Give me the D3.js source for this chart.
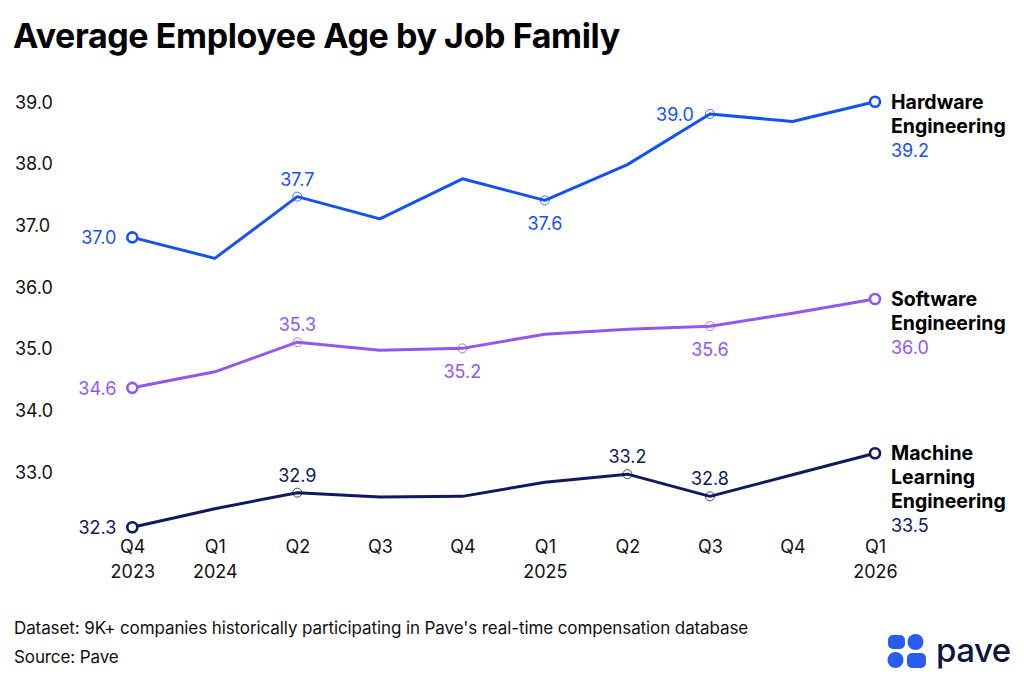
<!DOCTYPE html>
<html>
<head>
<meta charset="utf-8">
<script src="https://cdn.jsdelivr.net/npm/d3@7"></script>
<style>
  html, body { margin: 0; padding: 0; background: #fff; }
  svg { display: block; font-family: Inter, "Open Sans", sans-serif; }
</style>
</head>
<body>
<svg id="chart" width="1024" height="683"></svg>
<script>
// ---- data ----
const quarters = ["Q4", "Q1", "Q2", "Q3", "Q4", "Q1", "Q2", "Q3", "Q4", "Q1"];
const years    = ["2023", "2024", "", "", "", "2025", "", "", "", "2026"];

const hardware = [37.0, 36.66, 37.66, 37.30, 37.95, 37.6, 38.18, 39.0, 38.88, 39.2];
const software = [34.56, 34.82, 35.3, 35.17, 35.2, 35.43, 35.51, 35.56, 35.77, 36.0];
const machineLearning = [32.3, 32.6, 32.86, 32.79, 32.8, 33.03, 33.16, 32.8, 33.15, 33.5];

// y tick labels as printed on the reference, and where they sit on the value scale
const yTickLabels = ["33.0", "34.0", "35.0", "36.0", "37.0", "38.0", "39.0"];
const yTickValues = [33.2, 34.2, 35.2, 36.2, 37.2, 38.2, 39.2];

const seriesNames = ["Hardware", "Software", "Machine Learning"];
const seriesLabelLines = [["Hardware", "Engineering"], ["Software", "Engineering"], ["Machine", "Learning", "Engineering"]];
const seriesColors = ["#1652F0", "#9457EB", "#0E1A5C"];
// labelled point index -> placement
const hardwareLabels = [[0, "left"], [2, "above"], [5, "below"], [7, "left"]];
const softwareLabels = [[0, "left"], [2, "above"], [4, "below"], [7, "below"]];
const mlLabels = [[0, "left"], [2, "above"], [6, "above"], [7, "above"]];

const title = "Average Employee Age by Job Family";
const footnotes = ["Dataset: 9K+ companies historically participating in Pave's real-time compensation database", "Source: Pave"];

// ---- chart ----
const svg = d3.select("#chart");
const fmt = d3.format(".1f");

const x = d3.scalePoint().domain(d3.range(quarters.length)).range([132.3, 875]);
const y = d3.scaleLinear().domain([33.2, 39.2]).range([471.7, 101.7]);

svg.append("text").attr("x", 13).attr("y", 48)
  .attr("font-size", 34).attr("font-weight", 700).attr("fill", "#000")
  .attr("letter-spacing", -0.4).text(title);

// y axis (text only)
const yAxis = d3.axisLeft(y).tickValues(yTickValues)
  .tickFormat((d, i) => yTickLabels[i]).tickSize(0);
const yg = svg.append("g").attr("transform", "translate(15,0)").call(yAxis);
yg.select(".domain").remove();
yg.selectAll("text").attr("text-anchor", "start").attr("x", 0).attr("dy", "0.35em")
  .attr("font-size", 18).attr("fill", "#111").attr("font-family", "Inter, sans-serif");

// x axis
const xAxis = d3.axisBottom(x).tickFormat(i => quarters[i]).tickSize(0);
const xg = svg.append("g").attr("transform", "translate(0,540)").call(xAxis);
xg.select(".domain").remove();
xg.selectAll("text").attr("font-size", 18).attr("fill", "#111").attr("dy", "0.71em")
  .attr("font-family", "Inter, sans-serif").attr("y", 0);
xg.selectAll(".tick").append("text").attr("y", 25).attr("dy", "0.71em")
  .attr("font-size", 18).attr("fill", "#111").attr("text-anchor", "middle")
  .attr("font-family", "Inter, sans-serif")
  .text(i => years[i]);

const allSeries = [hardware, software, machineLearning];
const allLabels = [hardwareLabels, softwareLabels, mlLabels];
const line = d3.line().x((d, i) => x(i)).y(d => y(d));

allSeries.forEach((vals, s) => {
  const c = seriesColors[s];
  const g = svg.append("g");
  g.append("path").datum(vals).attr("d", line).attr("fill", "none")
    .attr("stroke", c).attr("stroke-width", 3).attr("stroke-linejoin", "round");

  // small markers at labelled intermediate points
  allLabels[s].filter(l => l[0] !== 0).forEach(([i]) => {
    g.append("circle").attr("cx", x(i)).attr("cy", y(vals[i])).attr("r", 4.5)
      .attr("fill", "none").attr("stroke", c).attr("stroke-width", 1).attr("opacity", 0.8);
  });
  // start & end markers
  [0, vals.length - 1].forEach(i => {
    g.append("circle").attr("cx", x(i)).attr("cy", y(vals[i])).attr("r", 5)
      .attr("fill", "#fff").attr("stroke", c).attr("stroke-width", 2.6);
  });

  // value labels
  allLabels[s].forEach(([i, pos]) => {
    const px = x(i), py = y(vals[i]);
    const t = g.append("text").attr("font-size", 18).attr("fill", c).text(fmt(vals[i]));
    if (pos === "left") t.attr("x", px - 16).attr("y", py + 7).attr("text-anchor", "end");
    else if (pos === "above") t.attr("x", px).attr("y", py - 11).attr("text-anchor", "middle");
    else t.attr("x", px).attr("y", py + 30).attr("text-anchor", "middle");
  });

  // end labels
  const ex = x(vals.length - 1) + 16, ey = y(vals[vals.length - 1]) + 7;
  seriesLabelLines[s].forEach((ln, k) => {
    g.append("text").attr("x", ex).attr("y", ey + k * 24).attr("font-size", 19.5)
      .attr("font-weight", 700).attr("fill", "#000").text(ln);
  });
  g.append("text").attr("x", ex).attr("y", ey + seriesLabelLines[s].length * 24)
    .attr("font-size", 18).attr("fill", c).text(fmt(vals[vals.length - 1]));
});

// footnotes
footnotes.forEach((f, k) => {
  svg.append("text").attr("x", 14).attr("y", 634 + k * 29).attr("font-size", 17)
    .attr("fill", "#111").attr("letter-spacing", -0.1).text(f);
});

// logo
const logo = svg.append("g").attr("fill", "#2A5CF0");
logo.append("rect").attr("x", 888).attr("y", 635).attr("width", 17).attr("height", 14).attr("rx", 5);
logo.append("circle").attr("cx", 915.5).attr("cy", 642).attr("r", 8);
logo.append("circle").attr("cx", 895.5).attr("cy", 660).attr("r", 8);
logo.append("rect").attr("x", 907).attr("y", 653).attr("width", 19).attr("height", 15).attr("rx", 5);
svg.append("text").attr("x", 936).attr("y", 662).attr("font-size", 33).attr("font-weight", 500)
  .attr("fill", "#0E1640").attr("letter-spacing", -0.5).text("pave");
</script>
</body>
</html>
